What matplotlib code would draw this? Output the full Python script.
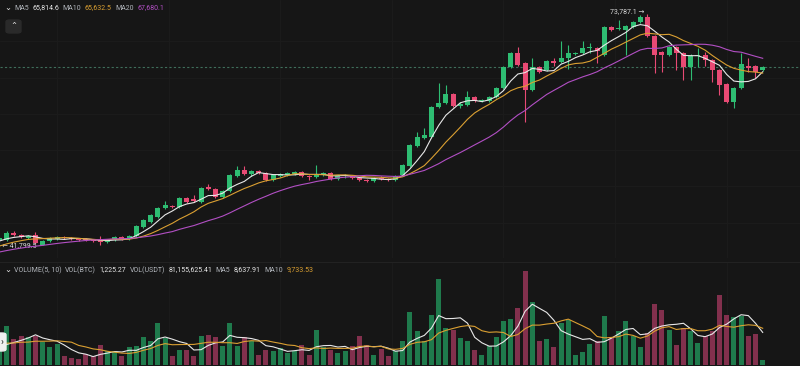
import numpy as np
import pandas as pd
import matplotlib
matplotlib.use('Agg')
import matplotlib.pyplot as plt
from matplotlib.patches import FancyBboxPatch

plt.rcParams['font.family'] = ['Roboto', 'DejaVu Sans']

# closes/volumes just before the visible window (read back from where the MA lines start)
pre_close = [39588, 39726, 39864, 40002, 40139, 40139, 40277, 40415, 40553, 40691,
             40691, 40829, 41105, 41381, 41519, 42070, 42346, 42484, 42622]
pre_vol = [5200, 6400, 5800, 6900, 5500, 6100, 4300, 4800, 4200]

opens = [42622, 42622, 43587, 43311, 42898, 43311, 41932, 42484, 42760, 43035,
         42898, 42760, 42760, 42622, 42622, 42346, 42622, 43035, 42760, 43173,
         44414, 45104, 45793, 47035, 47310, 47172, 48414, 48276, 47862, 49930,
         49655, 48551, 49379, 51447, 52275, 51723, 52137, 51861, 50896, 51447,
         51585, 51723, 51999, 51447, 51309, 51585, 51861, 51034, 51447, 51447,
         51172, 50896, 50758, 51172, 51034, 50896, 51585, 52826, 55584, 56688,
         56825, 60962, 61514, 62755, 61100, 61238, 62341, 61790, 61790, 62341,
         63583, 66478, 68409, 67030, 63307, 66478, 66065, 67306, 67168, 67720,
         68271, 68409, 69099, 69099, 68133, 71994, 71719, 71581, 71994, 72684,
         73373, 70753, 68547, 68133, 69236, 68409, 66478, 67995, 68133, 67444,
         66065, 64134, 61652, 63583, 66616, 66616, 66065]
highs = [43173, 43863, 43863, 43449, 43311, 43725, 42622, 43035, 43173, 43173,
         43035, 42898, 42898, 42760, 43173, 42760, 43173, 43173, 43311, 44690,
         45518, 46207, 47172, 48000, 47448, 48551, 48551, 48827, 49930, 50344,
         49793, 49517, 51723, 52826, 52826, 52275, 52275, 51999, 51723, 51861,
         51999, 52137, 52137, 51585, 52964, 51999, 51999, 51585, 51723, 51585,
         51309, 51034, 51309, 51447, 51172, 51585, 53102, 55860, 57515, 58067,
         61100, 64272, 63996, 62893, 61652, 63169, 62479, 62066, 62479, 63720,
         66616, 68547, 69236, 67168, 67720, 66616, 67444, 67720, 70064, 69512,
         68547, 70064, 69788, 69236, 72132, 72132, 72960, 72270, 72822, 73649,
         73787.1, 70891, 68685, 69374, 69374, 68547, 68271, 69099, 68547, 67582,
         66203, 64272, 63720, 68409, 67720, 66754, 66616]
lows = [41799.5, 42484, 43173, 42898, 42760, 42070, 41932, 42346, 42622, 42760,
        42622, 42484, 42484, 42346, 41932, 42208, 42484, 42622, 42622, 43035,
        44277, 44966, 45656, 46897, 47035, 47035, 47724, 47862, 47724, 49517,
        48414, 48414, 49241, 51309, 51585, 51447, 51723, 50758, 50758, 51309,
        51447, 51585, 51309, 50896, 51172, 51447, 50896, 50896, 51172, 51034,
        50758, 50620, 50620, 50896, 50758, 50758, 51447, 52688, 55446, 56550,
        56688, 60825, 61376, 60962, 60825, 61100, 61652, 61652, 61652, 62204,
        63445, 66341, 66616, 58894, 63169, 65651, 65927, 66616, 67030, 66203,
        68133, 68271, 68409, 67030, 67995, 71443, 71581, 68133, 71857, 72546,
        70615, 65651, 65789, 67995, 66065, 64686, 64686, 66478, 66616, 64410,
        62617, 61514, 60825, 63445, 65789, 64962, 65927]
closes = [42898, 43587, 43311, 43035, 43173, 42208, 42484, 42898, 43035, 42898,
          42760, 42622, 42622, 42484, 42346, 42622, 43035, 42760, 43173, 44552,
          45380, 46069, 47035, 47448, 47172, 48414, 47862, 48000, 49793, 49655,
          48551, 49379, 51585, 52275, 51723, 52137, 51861, 50896, 51585, 51723,
          51861, 51999, 51447, 51309, 51723, 51861, 51034, 51447, 51585, 51172,
          50896, 50758, 51172, 51034, 50896, 51447, 52964, 55722, 56825, 57101,
          60962, 61514, 62755, 61100, 61376, 62341, 61790, 61928, 62341, 63583,
          66478, 68409, 66754, 63307, 66478, 65789, 67306, 67030, 67720, 68409,
          68409, 69099, 69236, 68685, 71994, 71581, 71857, 72132, 72684, 73373,
          70753, 68133, 68133, 69236, 68409, 66478, 67947, 68133, 67444, 66027,
          63996, 61652, 63583, 66882, 66341, 65789, 66478]
vols = [3620, 10250, 6980, 7600, 7420, 7770, 6010, 4680, 5650, 2300,
        1860, 1590, 2920, 2470, 5210, 3620, 3620, 2300, 4770, 5120,
        7420, 6270, 11130, 7150, 2300, 4060, 3890, 2470, 7600, 7950,
        7420, 5120, 11130, 5120, 7420, 6270, 2740, 4060, 3620, 4500,
        3180, 3620, 5300, 2740, 9300, 4680, 3890, 3180, 3620, 4950,
        7600, 5390, 2740, 4240, 2300, 3620, 6270, 13960, 9100, 6270,
        13340, 22880, 9800, 9360, 7150, 6270, 4060, 2560, 4950, 7330,
        11750, 12280, 15100, 24820, 16600, 6270, 6890, 4680, 11130, 12020,
        2740, 3360, 5650, 6270, 12900, 7420, 8920, 11570, 7600, 4680,
        8480, 16250, 14660, 9190, 5390, 9800, 8920, 5830, 7600, 8920,
        18455.75, 13340, 12824.28, 13070, 7770, 8300, 1225.27]

ma_label = ['MA5', 'MA10', 'MA20']
vol_label = 'VOLUME(5, 10)'
vol_usdt = '81,155,625.41'

bg = '#161616'
up_c, dn_c = '#2ebd72', '#e84a74'
up_v, dn_v = '#1f7a4c', '#82304d'
ma_c = ['#e8e8e8', '#dba032', '#b24fc4']

n = len(closes)
x = np.arange(n)
o, h, l, c, v = map(np.array, (opens, highs, lows, closes, vols))
up = c >= o

xa = np.arange(-len(pre_close), n)
cs = pd.Series(pre_close + closes)
mas = [cs.rolling(k, min_periods=1).mean() for k in (5, 10, 20)]
xv = np.arange(-len(pre_vol), n)
vs = pd.Series(pre_vol + vols)
vmas = [vs.rolling(k, min_periods=1).mean() for k in (5, 10)]

W, H = 800, 366
fig = plt.figure(figsize=(W / 100, H / 100), dpi=100, facecolor=bg)
ax = fig.add_axes([0, 1 - 258 / H, 1, 258 / H], facecolor=bg)
vax = fig.add_axes([0, 1 / H, 1, 103 / H], facecolor=bg)

xmin, xmax = 0.07, 0.07 + W / 7.2
for a in (ax, vax):
    a.set_xlim(xmin, xmax)
    a.set_xticks([8, 23.5, 39, 54.5, 70, 85.5, 101])
    a.tick_params(length=0, labelbottom=False, labelleft=False)
    a.grid(True, color='#1c1c1c', lw=0.6)
    for s in a.spines.values():
        s.set_visible(False)
ax.set_ylim(40139.5, 75717.7)
ax.set_yticks([45000, 50000, 55000, 60000, 65000, 70000])
vax.set_ylim(0, 27300)
vax.set_yticks([])
vax.axhline(27300, color='#222222', lw=0.8)

# candles
col = np.where(up, up_c, dn_c)
ax.vlines(x, l, h, colors=col, lw=0.8, zorder=3)
body_lo = np.minimum(o, c)
body_h = np.maximum(np.abs(c - o), 70)
ax.bar(x, body_h, bottom=body_lo, width=0.7, color=col, zorder=4)

for m, cc in zip(mas, ma_c):
    ax.plot(xa, m, color=cc, lw=0.8, zorder=5)

ax.axhline(c[-1], color='#3f6e5b', lw=0.8, ls=(0, (2, 2)), zorder=2)

# high / low labels
ih, il = int(np.argmax(h)), int(np.argmin(l))
ax.annotate(f'{h[ih]:,.1f} \u2192', (ih, h[ih]), xytext=(-2, 2), textcoords='offset points',
            ha='right', va='center', color='#d8d8d8', fontsize=5, annotation_clip=False)
ax.annotate(f'\u2190 {l[il]:,.1f}', (il, l[il]), xytext=(2, 0), textcoords='offset points',
            ha='left', va='center', color='#d8d8d8', fontsize=5, annotation_clip=False)

# volume
vax.bar(x, v, width=0.7, color=np.where(up, up_v, dn_v), zorder=3)
vax.plot(xv, vmas[0], color=ma_c[0], lw=0.8, zorder=4)
vax.plot(xv, vmas[1], color=ma_c[1], lw=0.8, zorder=4)

# legend rows
fig.canvas.draw()
rend = fig.canvas.get_renderer()


def row(y, parts, x0=14):
    xp = x0
    for s, cc in parts:
        t = fig.text(xp / W, 1 - y / H, s, color=cc, fontsize=5, va='center', ha='left')
        xp = t.get_window_extent(rend).x1 + 3.5


gray, white = '#b0b4ba', '#e6e6e6'
row(8, [(ma_label[0], gray), (f'{mas[0].iloc[-1]:,.1f}', white),
        (ma_label[1], gray), (f'{mas[1].iloc[-1]:,.1f}', ma_c[1]),
        (ma_label[2], gray), (f'{mas[2].iloc[-1]:,.1f}', ma_c[2])])
row(270, [(vol_label, gray), ('VOL(BTC)', gray), (f'{v[-1]:,.2f}', white),
          ('VOL(USDT)', gray), (vol_usdt, white),
          ('MA5', gray), (f'{vmas[0].iloc[-1]:,.2f}', white),
          ('MA10', gray), (f'{vmas[1].iloc[-1]:,.2f}', ma_c[1])])
for yy in (8, 270):
    fig.text(8 / W, 1 - yy / H, '\u2304', color=white, fontsize=6, ha='center', va='center',
             family=['DejaVu Sans'])

# little ui buttons
btn = FancyBboxPatch((6 / W, 1 - 33 / H), 15 / W, 13 / H, boxstyle='round,pad=0,rounding_size=0.005',
                     transform=fig.transFigure, color='#2a2a2a')
fig.patches.append(btn)
fig.text(13.5 / W, 1 - 26 / H, '\u2303', color=white, fontsize=6, ha='center', va='center',
         family=['DejaVu Sans'])
tab = FancyBboxPatch((-4 / W, 1 - 351 / H), 10 / W, 18 / H, boxstyle='round,pad=0,rounding_size=0.005',
                     transform=fig.transFigure, color='#f0f0f0')
fig.patches.append(tab)
fig.text(2.5 / W, 1 - 342 / H, '\u203a', color='#222222', fontsize=7, ha='center', va='center')

fig.savefig('out.png', dpi=100, facecolor=bg)
